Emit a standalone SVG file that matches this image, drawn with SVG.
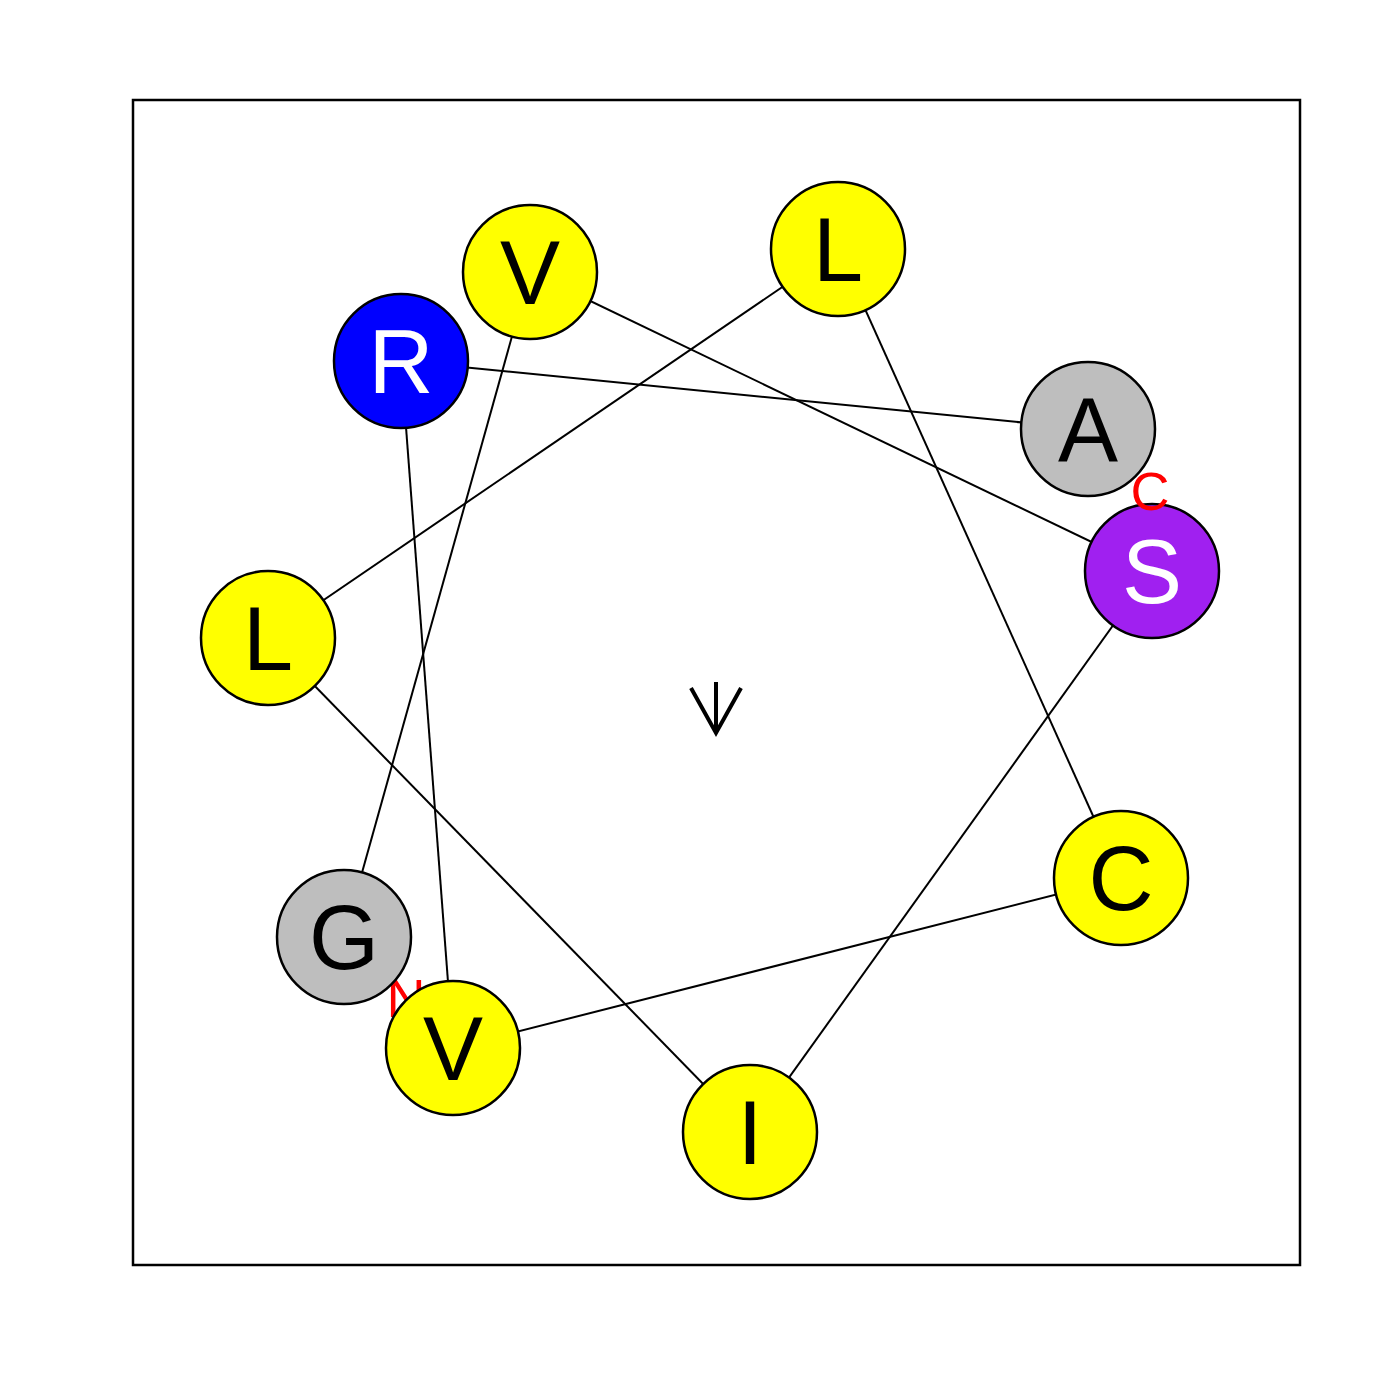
<svg xmlns="http://www.w3.org/2000/svg" width="1400" height="1400" viewBox="0 0 1400 1400">
<style>
.res{stroke:#000;stroke-width:2.5}
.lbl{font-family:"Liberation Sans",Arial,sans-serif;font-size:90px;text-anchor:middle}
.term{font-family:"Liberation Sans",Arial,sans-serif;font-size:54px;text-anchor:middle;fill:#ff0000}
.conn line{stroke:#000;stroke-width:2}
</style>
<rect width="1400" height="1400" fill="#fff"/>
<rect x="133" y="100" width="1167" height="1165" fill="none" stroke="#000" stroke-width="2.5"/>
<g id="connectors" class="conn">
<line x1="453" y1="1048" x2="1121" y2="878"/>
<line x1="1121" y1="878" x2="838" y2="249"/>
<line x1="838" y1="249" x2="268" y2="638"/>
<line x1="268" y1="638" x2="750" y2="1132"/>
<line x1="750" y1="1132" x2="1152" y2="571"/>
<line x1="1152" y1="571" x2="530" y2="272"/>
<line x1="530" y1="272" x2="344" y2="937"/>
<line x1="401" y1="361" x2="1088" y2="429"/>
<line x1="401" y1="361" x2="453" y2="1048"/>
</g>
<g id="arrow" stroke="#000" stroke-width="4" fill="none">
<line x1="716" y1="682" x2="716" y2="733"/>
<polyline points="691,688 716,733 741,688"/>
</g>
<g id="labelN"><text class="term" x="406" y="1017">N</text></g>
<g id="node-V1"><circle class="res" cx="530" cy="272" r="67" fill="#ffff00"/><text class="lbl" x="530" y="304">V</text></g>
<g id="node-L1"><circle class="res" cx="838" cy="249" r="67" fill="#ffff00"/><text class="lbl" x="838" y="281">L</text></g>
<g id="node-R"><circle class="res" cx="401" cy="361" r="67" fill="#0000ff"/><text class="lbl" x="401" y="393" fill="#fff">R</text></g>
<g id="node-A"><circle class="res" cx="1088" cy="429" r="67" fill="#bebebe"/><text class="lbl" x="1088" y="461">A</text></g>
<g id="node-S"><circle class="res" cx="1152" cy="571" r="67" fill="#a020f0"/><text class="lbl" x="1152" y="603" fill="#fff">S</text></g>
<g id="labelC"><text class="term" x="1150" y="510">C</text></g>
<g id="node-L2"><circle class="res" cx="268" cy="638" r="67" fill="#ffff00"/><text class="lbl" x="268" y="670">L</text></g>
<g id="node-C"><circle class="res" cx="1121" cy="878" r="67" fill="#ffff00"/><text class="lbl" x="1121" y="910">C</text></g>
<g id="node-G"><circle class="res" cx="344" cy="937" r="67" fill="#bebebe"/><text class="lbl" x="344" y="969">G</text></g>
<g id="node-V2"><circle class="res" cx="453" cy="1048" r="67" fill="#ffff00"/><text class="lbl" x="453" y="1080">V</text></g>
<g id="node-I"><circle class="res" cx="750" cy="1132" r="67" fill="#ffff00"/><text class="lbl" x="750" y="1164">I</text></g>
</svg>
